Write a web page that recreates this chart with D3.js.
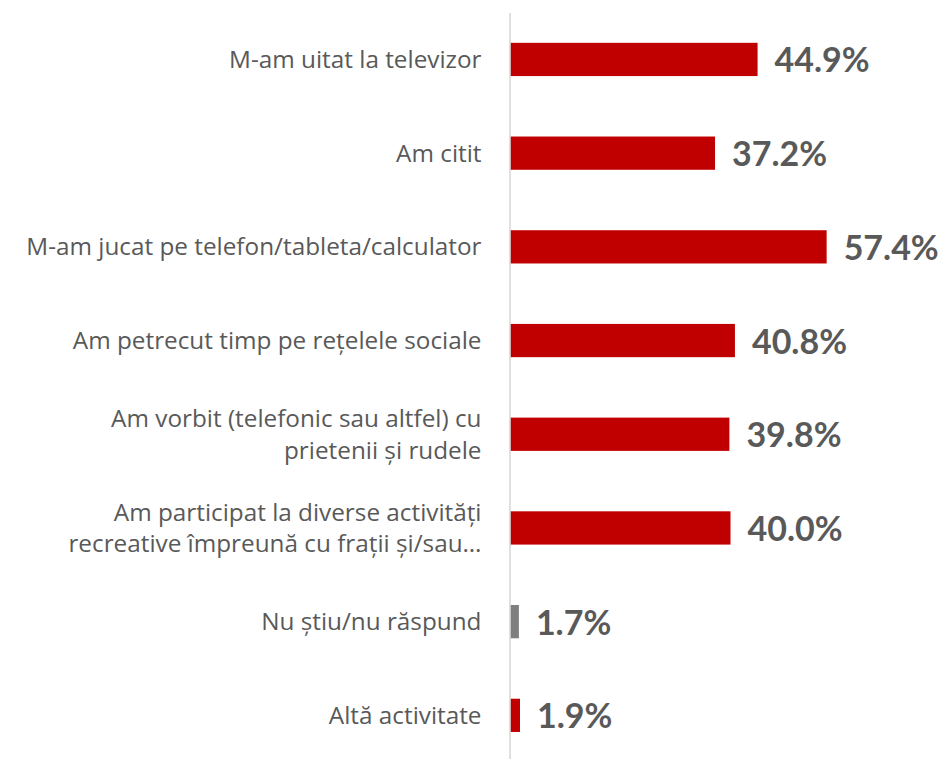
<!DOCTYPE html>
<html>
<head>
<meta charset="utf-8">
<script src="https://cdn.jsdelivr.net/npm/d3@7"></script>
<style>
  html, body { margin: 0; padding: 0; background: #ffffff; }
  svg { display: block; }
</style>
</head>
<body>
<svg id="chart" width="944" height="759"></svg>
<script>
// ---- Data ----
const categories = [
  "M-am uitat la televizor",
  "Am citit",
  "M-am jucat pe telefon/tableta/calculator",
  "Am petrecut timp pe rețelele sociale",
  "Am vorbit (telefonic sau altfel) cu\nprietenii și rudele",
  "Am participat la diverse activități\nrecreative împreună cu frații și/sau…",
  "Nu știu/nu răspund",
  "Altă activitate"
];
const values = [44.9, 37.2, 57.4, 40.8, 39.8, 40.0, 1.7, 1.9];
const neutralCategory = "Nu știu/nu răspund";

// ---- Layout ----
const width = 944, height = 759;
const axisX = 509.5;
const svg = d3.select("#chart");

const x = d3.scaleLinear().domain([0, 60]).range([axisX, axisX + 60 * 5.525]);
const y = d3.scaleBand()
  .domain(categories)
  .range([12.6, 762.2])
  .paddingInner(0.645)
  .paddingOuter(0.3225);

const data = categories.map((c, i) => ({ cat: c, val: values[i] }));

// Bars
svg.append("g")
  .selectAll("rect")
  .data(data)
  .join("rect")
  .attr("x", x(0) + 0.5)
  .attr("y", d => y(d.cat))
  .attr("width", d => x(d.val) - x(0) - 0.5)
  .attr("height", y.bandwidth())
  .attr("fill", d => d.cat === neutralCategory ? "#7f7f7f" : "#c00000");

// Axis (vertical line + category labels)
const axis = svg.append("g")
  .attr("transform", `translate(${axisX},0)`)
  .call(d3.axisLeft(y).tickSize(0).tickSizeOuter(0).tickPadding(28));

axis.select(".domain")
  .attr("stroke", "#d9d9d9")
  .attr("stroke-width", 1.6);

axis.selectAll(".tick text")
  .attr("font-family", "'Open Sans', sans-serif")
  .attr("font-size", 24.3)
  .attr("fill", "#595959")
  .attr("text-anchor", "end")
  .attr("dy", null)
  .each(function(d) {
    const t = d3.select(this);
    const lines = d.split("\n");
    t.text(null);
    const lh = 31.5;
    const capHalf = 8.5;
    const start = -(lines.length - 1) * lh / 2 + capHalf;
    lines.forEach((ln, i) => {
      t.append("tspan")
        .attr("x", -28)
        .attr("y", start + i * lh)
        .text(ln);
    });
  });

// Value labels
svg.append("g")
  .selectAll("text")
  .data(data)
  .join("text")
  .attr("x", d => x(d.val) + 17)
  .attr("y", d => y(d.cat) + y.bandwidth() / 2 + 13)
  .attr("font-family", "Lato, 'Open Sans', sans-serif")
  .attr("font-weight", "bold")
  .attr("font-size", 34)
  .attr("fill", "#595959")
  .text(d => d.val.toFixed(1) + "%");
</script>
</body>
</html>
